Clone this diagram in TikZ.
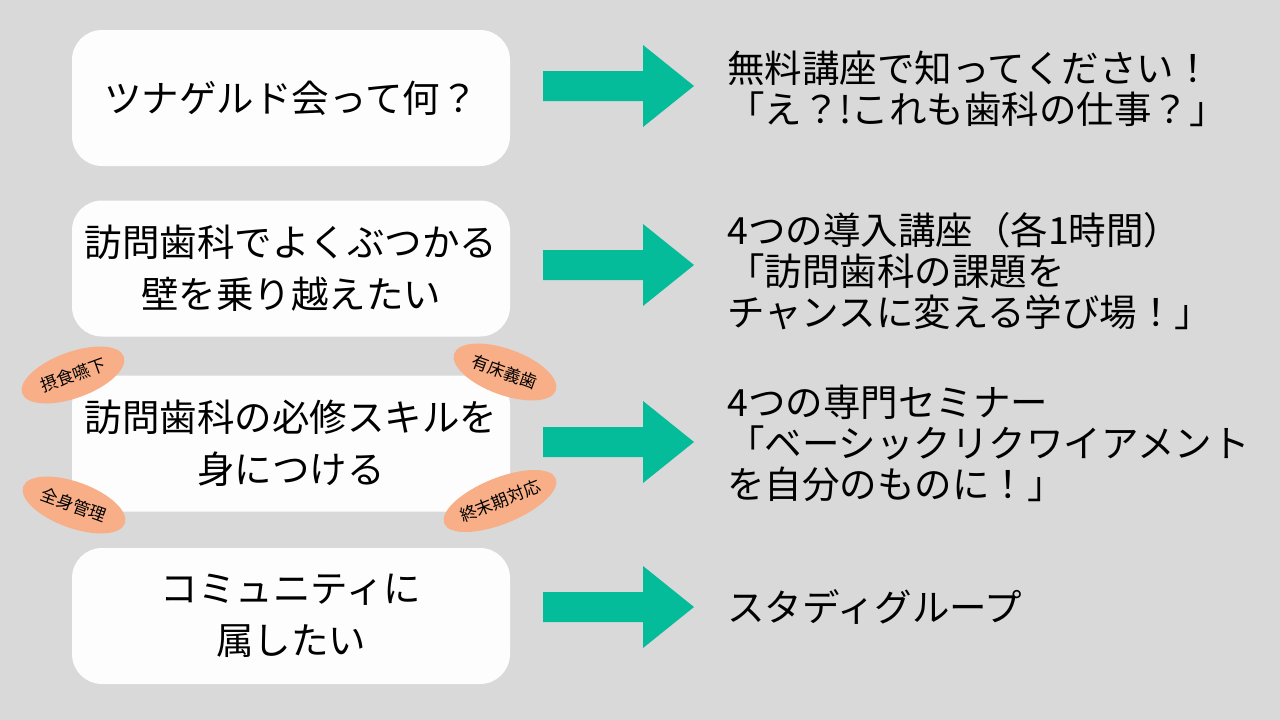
\documentclass[tikz,border=0pt]{standalone}
\usepackage{fontspec}
\setmainfont{Noto Sans CJK JP}
\usepackage{tikz}
\usetikzlibrary{shapes.geometric}
\definecolor{bg}{HTML}{D9D9D9}
\definecolor{card}{HTML}{FDFDFD}
\definecolor{teal}{HTML}{05BC9A}
\definecolor{peach}{HTML}{F8AE86}
\tikzset{
  need/.style={fill=card, rounded corners=30pt, minimum width=438pt, minimum height=136pt,
    inner sep=0pt, align=center, font=\fontsize{37.5}{52}\selectfont},
  answer/.style={anchor=west, inner sep=0pt, align=left, font=\fontsize{37.5}{41}\selectfont},
  tag/.style={ellipse, fill=peach, minimum width=108pt, minimum height=46pt, inner sep=0pt,
    font=\fontsize{17}{19}\selectfont},
  flow/.style={fill=teal},
}

\begin{document}
\begin{tikzpicture}[x=1pt, y=-1pt]
  \fill[bg] (0,0) rectangle (1280,720);
  \useasboundingbox (0,0) rectangle (1280,720);

  % left column
  \node[need] (need1) at (291,98) {ツナゲルド会って何？};
  \node[need] (need2) at (291,268.5) {訪問歯科でよくぶつかる\\壁を乗り越えたい};
  \node[need] (need3) at (291,443.5) {訪問歯科の必修スキルを\\身につける};
  \node[need] (need4) at (291,616) {コミュニティに\\属したい};

  % skill tags round the third card
  \node[tag, rotate=20] (tagA) at (73,375) {摂食嚥下};
  \node[tag, rotate=-20] (tagB) at (505,372) {有床義歯};
  \node[tag, rotate=-20] (tagC) at (74,505) {全身管理};
  \node[tag, rotate=22, minimum width=116pt] (tagD) at (500,501) {終末期対応};

  % arrows
  \foreach \y in {86,265,442,607}
    \fill[flow] (543,\y-15) -- (643,\y-15) -- (643,\y-41) -- (694,\y)
      -- (643,\y+41) -- (643,\y+15) -- (543,\y+15) -- cycle;

  % right column
  \node[answer] (ans1) at (727,89) {無料講座で知ってください！\\「え？!これも歯科の仕事？」};
  \node[answer] (ans2) at (727,271) {4つの導入講座（各1時間）\\「訪問歯科の課題を\\チャンスに変える学び場！」};
  \node[answer] (ans3) at (727,443) {4つの専門セミナー\\「ベーシックリクワイアメント\\を自分のものに！」};
  \node[answer] (ans4) at (727,607) {スタディグループ};
\end{tikzpicture}
\end{document}
